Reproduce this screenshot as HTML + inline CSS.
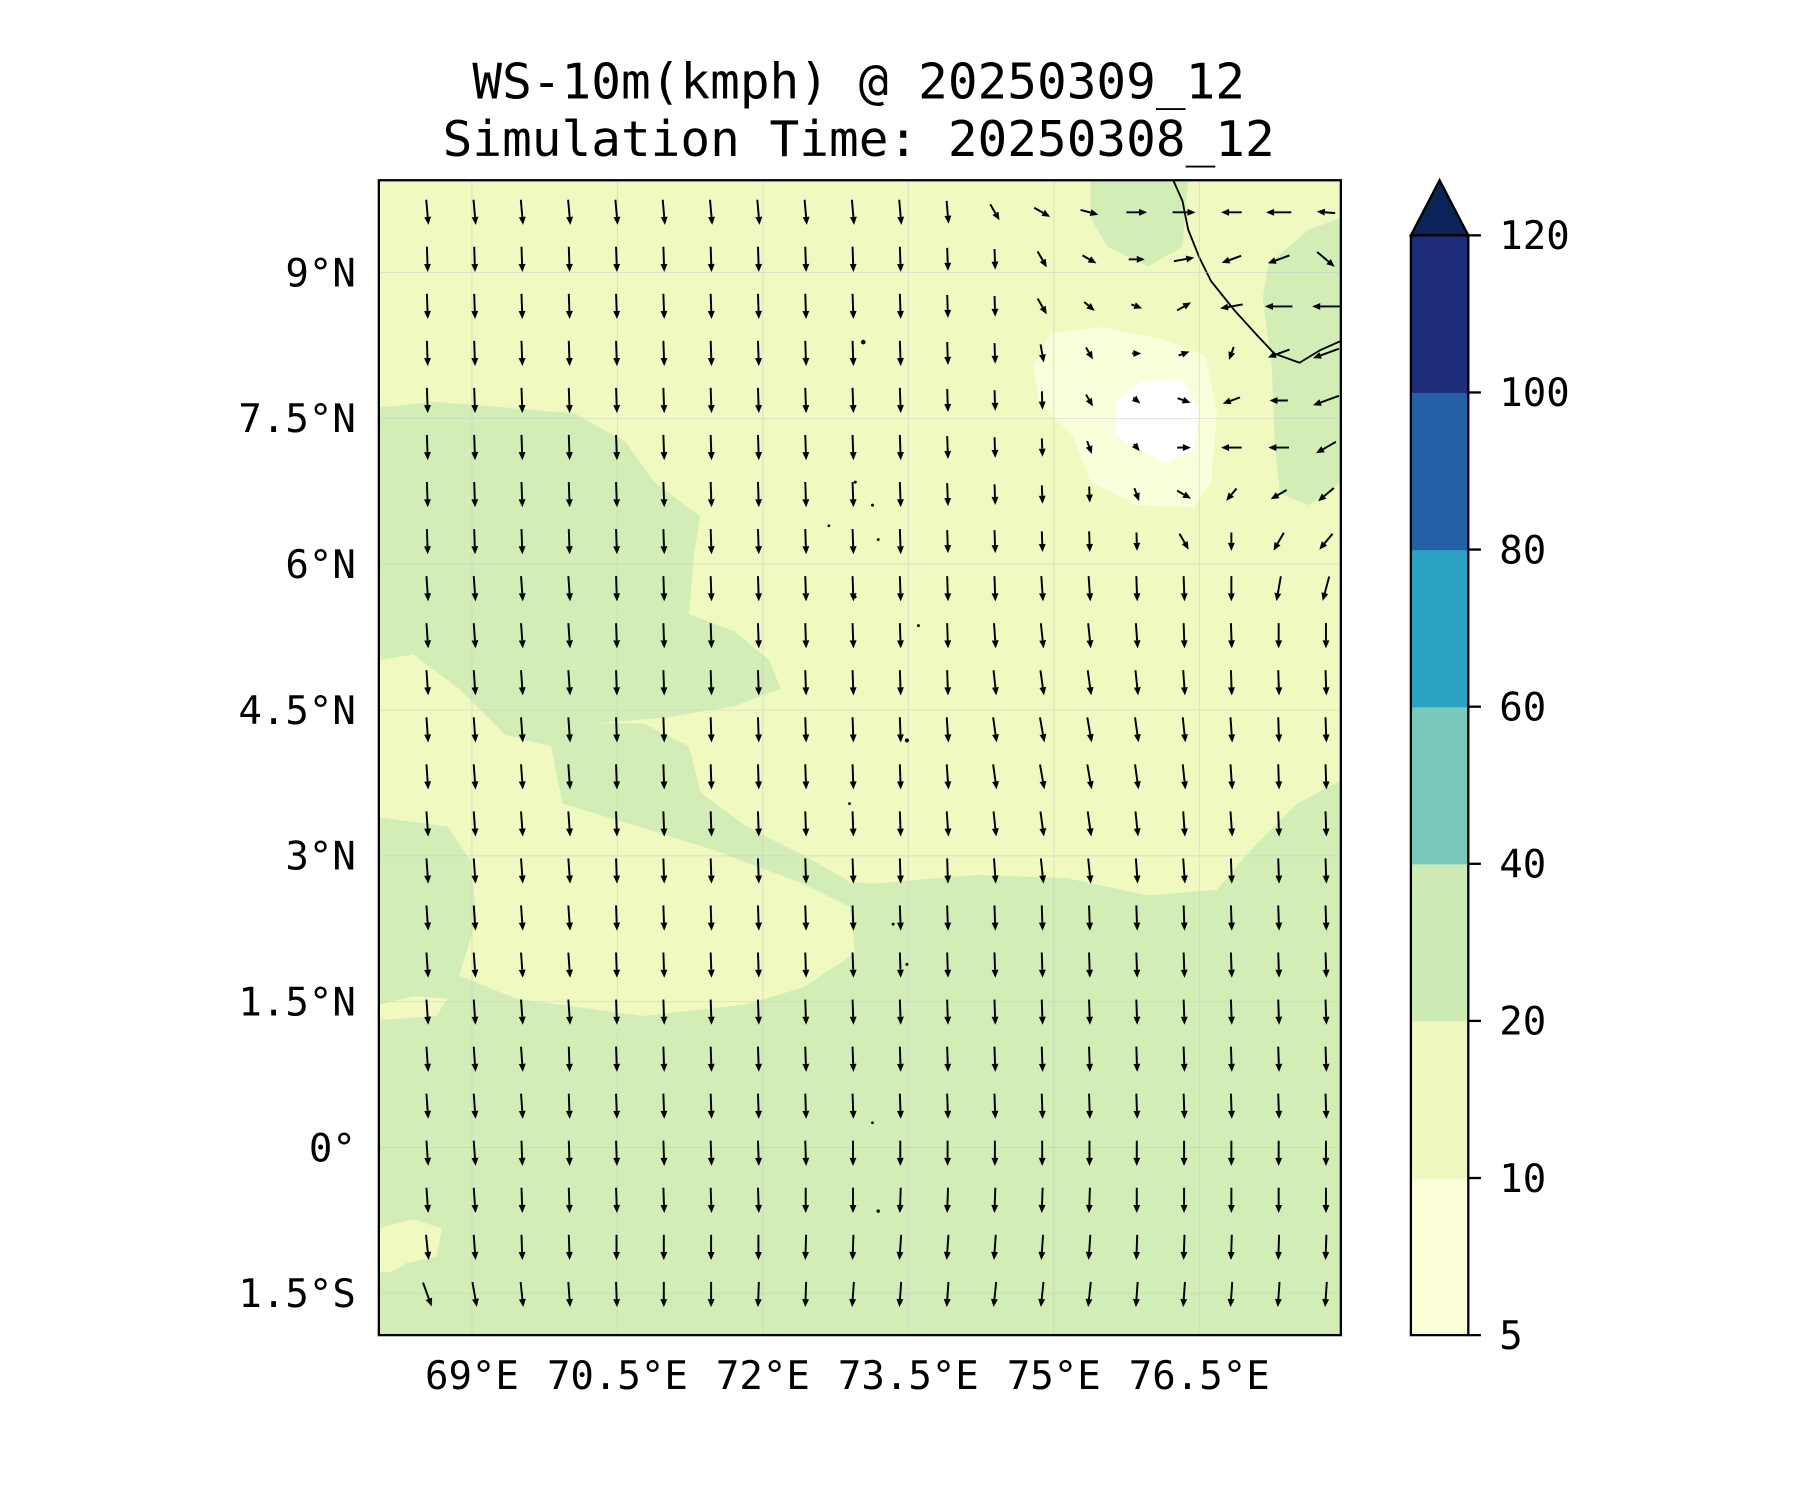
<!DOCTYPE html>
<html><head><meta charset="utf-8"><style>
html,body{margin:0;padding:0;background:#fff;}
svg{display:block;}
text{font-family:"DejaVu Sans Mono","Liberation Mono",monospace;fill:#000;}
</style></head><body>
<svg id="chart" width="1800" height="1500" viewBox="0 0 1800 1500" xmlns="http://www.w3.org/2000/svg">
<g id="root" transform="scale(1.148)">
<text x="748" y="86" font-size="43" text-anchor="middle">WS-10m(kmph) @ 20250309_12</text>
<text x="748" y="136" font-size="43" text-anchor="middle">Simulation Time: 20250308_12</text>
<defs><clipPath id="mapclip"><rect x="330" y="157" width="838" height="1006"/></clipPath></defs>
<g clip-path="url(#mapclip)">
<rect x="330" y="157" width="838" height="1006" fill="#d2edb6"/>
<polygon fill="#f0f9c0" points="330,157 1168,157 1168,680 1130,700 1090,740 1060,775 1000,780 930,765 850,762 760,770 740,768 700,745 650,720 610,690 600,650 560,630 520,630 580,625 640,615 680,600 670,575 640,550 600,535 605,480 610,450 570,420 545,385 500,360 440,355 380,350 330,355"/>
<polygon fill="#f0f9c0" points="330,575 360,570 400,600 440,640 480,650 490,700 540,715 620,740 700,770 740,790 745,830 700,860 650,875 560,885 450,870 400,850 415,800 410,750 390,720 330,712"/>
<polygon fill="#f0f9c0" points="330,875 360,868 390,870 380,885 340,888 330,888"/>
<polygon fill="#f0f9c0" points="330,1070 360,1062 385,1070 380,1095 355,1100 340,1108 330,1108"/>
<polygon fill="#d2edb6" points="950,157 1035,157 1030,215 1000,232 965,215 950,190"/>
<polygon fill="#d2edb6" points="1168,190 1140,200 1105,230 1100,260 1108,320 1110,380 1115,430 1140,440 1168,420"/>
<polygon fill="#fbfedb" points="915,290 960,285 1010,295 1050,310 1060,360 1055,420 1040,442 990,440 950,420 935,380 905,350 900,320"/>
<polygon fill="#ffffff" points="972,350 995,332 1030,330 1045,360 1040,392 1015,403 990,390 972,380"/>
<polyline fill="none" stroke="#000" stroke-width="1.6" points="1022,157 1030,175 1035,200 1045,225 1055,245 1075,270 1095,292 1110,308 1132,316 1150,305 1168,297"/>
<g id="gridlines" stroke="#ccc" stroke-width="0.8" opacity="0.6"></g>
<g id="arrows"></g>
<g fill="#000">
<circle cx="752" cy="298" r="2"/><circle cx="745" cy="420" r="1.3"/><circle cx="760" cy="440" r="1.3"/><circle cx="722" cy="458" r="1.2"/><circle cx="765" cy="470" r="1.3"/><circle cx="745" cy="520" r="1.2"/><circle cx="800" cy="545" r="1.3"/><circle cx="790" cy="645" r="1.8"/><circle cx="740" cy="700" r="1.2"/><circle cx="778" cy="805" r="1.3"/><circle cx="790" cy="840" r="1.3"/><circle cx="760" cy="978" r="1.2"/><circle cx="765" cy="1055" r="1.5"/>
</g>
</g>
<rect x="330" y="157" width="838" height="1006" fill="none" stroke="#000" stroke-width="2"/>
<g id="axes"></g>
<g id="colorbar"></g>
</g>
</svg>
<script>
// map extent (degrees)
const lonMin = 68.04, lonMax = 77.96, latMin = -1.93, latMax = 9.95;
const latTicks = [9, 7.5, 6, 4.5, 3, 1.5, 0, -1.5];
const latLabels = ["9°N","7.5°N","6°N","4.5°N","3°N","1.5°N","0°","1.5°S"];
const lonTicks = [69, 70.5, 72, 73.5, 75, 76.5];
const lonLabels = ["69°E","70.5°E","72°E","73.5°E","75°E","76.5°E"];
const cbLevels = [5, 10, 20, 40, 60, 80, 100, 120];
const cbColors = ["#fbfed6","#eff9bd","#cdebb4","#78c9bb","#2ca3c4","#2460a8","#1e2d7a"];
const cbExtendColor = "#0c2359";
// wind grid: headings in degrees (0=east, 90=north, 180=west, 270=south), rows north->south
const gridLat0 = 9.62, gridDLat = -0.484;
const gridLon0 = 68.54, gridDLon = 0.4877;
const headings = [
"275 275 275 275 275 275 275 275 275 275 275 275 300 330 345 0 0 180 180 175",
"272 272 272 272 272 272 272 272 272 272 272 272 272 300 330 0 10 200 200 320",
"272 272 272 272 272 272 272 272 272 272 272 272 272 300 320 340 30 190 180 180",
"272 272 272 272 272 272 272 272 272 272 272 272 272 280 300 0 20 250 200 200",
"272 272 272 272 272 272 272 272 272 272 272 272 272 272 300 320 340 200 180 200",
"272 272 272 272 272 272 272 272 272 272 272 272 272 272 290 310 0 180 180 210",
"272 272 272 272 272 272 272 272 272 272 272 272 272 272 272 290 330 230 210 220",
"272 272 272 272 272 272 272 272 272 272 272 272 272 272 272 272 300 270 240 230",
"274 274 274 274 272 272 272 272 272 272 272 272 272 274 274 272 272 270 260 255",
"274 274 274 274 272 272 272 272 272 272 272 272 274 276 276 274 272 272 270 270",
"274 274 274 274 272 272 272 272 272 272 272 272 276 278 278 276 274 272 272 272",
"274 274 274 274 272 272 272 272 272 272 272 274 278 280 280 278 276 274 272 272",
"274 274 274 274 272 272 272 272 272 272 272 274 278 280 280 278 276 274 272 272",
"274 274 274 274 272 272 272 272 272 272 272 274 276 278 278 276 274 274 272 272",
"274 274 274 274 272 272 272 272 272 272 272 272 274 276 276 274 274 272 272 272",
"274 274 274 274 272 272 272 272 272 272 272 272 272 272 272 272 272 272 272 272",
"274 274 274 274 272 272 272 272 272 272 272 272 272 272 272 272 272 272 272 272",
"274 274 274 274 272 272 272 272 272 272 272 272 272 272 272 272 272 272 272 272",
"274 274 274 272 272 272 272 272 272 272 272 272 272 272 272 272 272 272 272 272",
"274 274 274 272 272 272 272 272 272 272 272 272 272 272 272 272 272 272 272 272",
"274 274 272 272 272 272 272 272 272 270 270 270 270 270 270 270 270 270 270 270",
"274 274 272 272 272 272 272 272 270 270 268 268 268 268 268 270 270 270 270 270",
"276 274 272 272 270 270 270 270 268 268 266 266 266 266 266 268 268 268 268 268",
"290 280 276 274 272 270 270 268 268 266 266 266 264 264 264 266 266 266 266 266"
];
const lengths = [
"22 22 22 22 22 22 22 22 22 22 22 20 16 16 16 18 20 18 22 16",
"22 22 22 22 22 22 22 22 22 22 22 20 18 16 14 14 18 18 20 20",
"22 22 22 22 22 22 22 22 22 22 22 20 18 16 12 10 14 20 24 24",
"22 22 22 22 22 22 22 22 22 22 22 20 18 16 12 8 10 12 20 24",
"22 22 22 22 22 22 22 22 22 22 22 20 18 16 12 8 12 16 16 24",
"22 22 22 22 22 22 22 22 22 22 22 20 18 16 12 8 12 18 18 20",
"22 22 22 22 22 22 22 22 22 22 22 20 18 16 14 12 14 14 16 18",
"22 22 22 22 22 22 22 22 22 22 22 20 20 18 18 16 16 16 18 18"
];
const svgNS = "http://www.w3.org/2000/svg";
const X0=330, X1=1168, Y0=157, Y1=1163;
function xScale(lon){ return X0 + (lon-lonMin)/(lonMax-lonMin)*(X1-X0); }
function yScale(lat){ return Y0 + (latMax-lat)/(latMax-latMin)*(Y1-Y0); }
function mk(tag, attrs, parent){ const e=document.createElementNS(svgNS,tag); for(const k in attrs) e.setAttribute(k,attrs[k]); parent.appendChild(e); return e; }

const gl = document.getElementById('gridlines');
const ax = document.getElementById('axes');
latTicks.forEach((lat,i)=>{
  const y=yScale(lat);
  const l=mk('line',{x1:X0,x2:X1,y1:y,y2:y},gl);
  
  
  const t=mk('text',{x:310,y:y+12,'font-size':34,'text-anchor':'end'},ax);
  t.textContent=latLabels[i];
  
  
});
lonTicks.forEach((lon,i)=>{
  const x=xScale(lon);
  const l=mk('line',{x1:x,x2:x,y1:Y0,y2:Y1},gl);
  
  
  const t=mk('text',{x:x,y:1210,'font-size':34,'text-anchor':'middle'},ax);
  t.textContent=lonLabels[i];
  
  
});

const ag = document.getElementById('arrows');
headings.forEach((rowStr,r)=>{
  const hs=rowStr.split(' ').map(Number);
  const ls=(lengths[r]||"").split(' ').filter(s=>s).map(Number);
  hs.forEach((h,c)=>{
    const cx=xScale(gridLon0+c*gridDLon), cy=yScale(gridLat0+r*gridDLat);
    const L=ls.length?ls[c]:22;
    const a=h*Math.PI/180, dx=Math.cos(a), dy=-Math.sin(a);
    const x1=cx-dx*L/2, y1=cy-dy*L/2, x2=cx+dx*L/2, y2=cy+dy*L/2;
    const g=mk('g',{},ag);
    
    
    const hl=7, hw=3;
    const bx=x2-dx*hl, by=y2-dy*hl;
    mk('line',{x1:x1,y1:y1,x2:bx,y2:by,stroke:'#000','stroke-width':1.7},g);
    mk('polygon',{points:`${x2},${y2} ${bx-dy*hw},${by+dx*hw} ${bx+dy*hw},${by-dx*hw}`,fill:'#000'},g);
  });
});

const cb=document.getElementById('colorbar');
const CX0=1229, CX1=1279, CT=205, CB=1163;
const segH=(CB-CT)/(cbLevels.length-1);
cbColors.forEach((col,i)=>{
  const r=mk('rect',{x:CX0,y:CB-(i+1)*segH,width:CX1-CX0,height:segH+0.5,fill:col},cb);
  
  
});
const tri=mk('polygon',{points:`${CX0},${CT} ${CX1},${CT} ${(CX0+CX1)/2},157`,fill:cbExtendColor,stroke:'#000','stroke-width':2},cb);


const fr=mk('rect',{x:CX0,y:CT,width:CX1-CX0,height:CB-CT,fill:'none',stroke:'#000','stroke-width':2},cb);


cbLevels.forEach((v,i)=>{
  const y=CB-i*segH;
  mk('line',{x1:CX1,x2:CX1+11,y1:y,y2:y,stroke:'#000','stroke-width':2},cb);
  const t=mk('text',{x:1306,y:y+12,'font-size':34},cb);
  t.textContent=String(v);
  
  
});
</script>
</body></html>
